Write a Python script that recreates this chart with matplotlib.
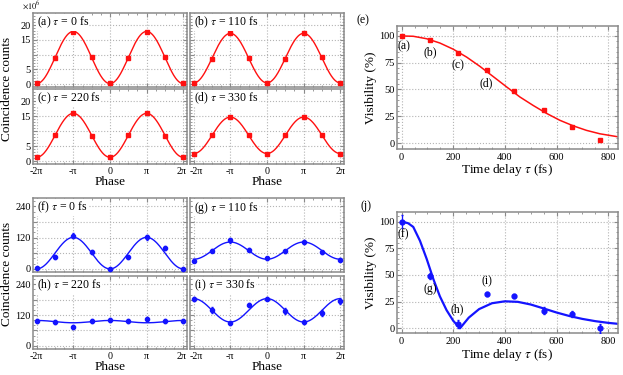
import matplotlib.pyplot as plt
import matplotlib.transforms as mtransforms
import numpy as np

plt.rcParams['font.family'] = 'Liberation Serif'
plt.rcParams['mathtext.fontset'] = 'stix'

# ---------------- data ----------------
phase_pts = np.pi * np.array([-2, -1.5, -1, -0.5, 0, 0.5, 1, 1.5, 2])
phase_ticklabels = ['-2π', '-π', '0', 'π', '2π']

# top block, counts in units of 1e6
counts_a = [0.2, 8.7, 17.8, 9.3, 0.2, 8.7, 17.8, 9.3, 0.2]
counts_b = [0.5, 8.4, 17.2, 8.9, 0.4, 8.6, 17.2, 9.2, 0.4]
counts_c = [1.3, 8.7, 16.0, 8.3, 1.2, 8.6, 16.0, 8.4, 1.3]
counts_d = [2.5, 8.7, 14.7, 8.6, 2.5, 8.7, 14.7, 8.7, 2.5]
# cosine fits: mean, amplitude (sign gives the phase)
fit_a = (9.0, -8.85)
fit_b = (8.8, -8.4)
fit_c = (8.6, -7.35)
fit_d = (8.6, -6.1)

# bottom block
counts_f = [2, 47, 128, 64, 0, 45, 121, 80, 0]
err_f = [4, 8, 9, 7, 3, 8, 9, 9, 3]
counts_g = [32, 69, 109, 73, 41, 67, 103, 64, 35]
err_g = [6, 6, 8, 6, 6, 6, 7, 6, 6]
counts_h = [96, 94, 74, 96, 100, 96, 106, 96, 96]
err_h = [8, 7, 8, 7, 7, 7, 8, 7, 7]
counts_i = [184, 141, 89, 158, 184, 136, 93, 128, 175]
err_i = [8, 12, 8, 8, 6, 10, 8, 12, 10]
fit_f = (60.5, -60.5)
fit_g = (70.0, -33.0)
fit_h = (94.5, 4.5)
fit_i = (138.5, 45.5)

# visibility vs delay
tau = [0, 110, 220, 330, 435, 550, 660, 770]
vis_e = [100, 96, 84, 68, 49, 31, 14.6, 2.5]
vis_j = [100, 49, 4, 32, 30.6, 16.6, 13.4, 0]
vis_j_err = [6, 3, 4, 2, 2, 3, 3, 4]

# fitted curves
fit_e_t = [0, 45, 97, 148, 200, 252, 303, 355, 406, 458, 510, 561, 613, 665, 716, 768, 838]
fit_e_v = [100, 99.7, 97.4, 93.4, 87.6, 80.2, 71.6, 62.0, 52.5, 43.0, 35.0, 27.7, 21.2, 16.0, 11.8, 8.6, 5.8]
fit_j_t = [0, 25, 45, 71, 97, 123, 148, 174, 200, 226, 260, 300, 350, 400, 450,
           500, 550, 600, 650, 700, 750, 800, 838]
fit_j_v = [100, 98.5, 95, 82, 65, 46, 30, 17, 7, 0, 10, 18, 23.5, 25.3, 24.8,
           22.3, 18.6, 14.8, 11.5, 8.8, 6.7, 5.1, 4.2]

labels_e = ['(a)', '(b)', '(c)', '(d)']
labels_e_xy = [(9, 90), (110, 85), (219, 73), (326, 56)]
labels_j = ['(f)', '(g)', '(h)', '(i)']
labels_j_xy = [(6, 88), (110, 37), (215, 18), (332, 44)]

# ---------------- layout ----------------
W, H = 623, 375
fig = plt.figure(figsize=(W / 100, H / 100), dpi=100)
frame_col = '#8a8a8a'
grid_col = '#b4b4b4'


def add_ax(x0, y0, x1, y1):
    return fig.add_axes([x0 / W, 1 - y1 / H, (x1 - x0) / W, (y1 - y0) / H])


def style(ax):
    for s in ax.spines.values():
        s.set_color(frame_col)
        s.set_linewidth(1.1)
    ax.tick_params(which='both', direction='in', top=True, right=True,
                   color=frame_col, labelsize=7.5, pad=1.5)
    ax.tick_params(which='major', length=3)
    ax.tick_params(which='minor', length=1.5)
    ax.grid(True, ls=':', color=grid_col, lw=0.8)
    ax.set_axisbelow(True)


def phase_panel(box, counts, err, fit, color, label, top, show_x, show_y, left_col):
    ax = add_ax(*box)
    style(ax)
    ph = np.linspace(-2 * np.pi, 2 * np.pi, 400)
    ax.plot(ph, fit[0] + fit[1] * np.cos(ph), color=color, lw=1.0, zorder=2)
    if err is None:
        ax.plot(phase_pts, counts, 's', color=color, ms=3, zorder=3)
    else:
        ax.errorbar(phase_pts, counts, yerr=err, fmt='o', color=color, ms=3,
                    elinewidth=0.9, capsize=1.0, zorder=3)
    ax.set_xlim(-6.6, 6.6)
    ax.set_xticks(np.pi * np.array([-2, -1, 0, 1, 2]))
    ax.set_xticks(np.pi * np.arange(-2, 2.01, 0.25), minor=True)
    if show_x:
        ax.set_xticklabels(phase_ticklabels)
        ax.tick_params(axis='x', pad=2.5, labelsize=7.2)
        # nudge the edge labels apart so neighbouring panels do not collide
        tl = ax.get_xticklabels()
        if left_col:
            tl[-1].set_transform(tl[-1].get_transform() + mtransforms.ScaledTranslation(-2 / 100, 0, fig.dpi_scale_trans))
        else:
            tl[0].set_transform(tl[0].get_transform() + mtransforms.ScaledTranslation(3 / 100, 0, fig.dpi_scale_trans))
    else:
        ax.set_xticklabels([])
    if top:
        ax.set_ylim(-1.0, 24.1)
        ax.set_yticks([0, 5, 10, 15, 20])
        ax.set_yticks(np.arange(0, 24, 1), minor=True)
        ylab = ['0', '5', '', '15', '20']
    else:
        ax.set_ylim(-12, 272)
        ax.set_yticks([0, 60, 120, 180, 240])
        ax.set_yticks(np.arange(0, 270, 20), minor=True)
        ylab = ['0', '', '120', '', '240']
    ax.set_yticklabels(ylab if show_y else [])
    ax.text(0.025, 0.975, label, transform=ax.transAxes, va='top', ha='left',
            fontsize=8.5, zorder=5,
            bbox=dict(facecolor='white', edgecolor='none', pad=0.3))
    return ax


red = '#ff1010'
blue = '#1414ff'

phase_panel((33, 13, 187, 87), counts_a, None, fit_a, red, r'(a) $\tau$ = 0 fs', True, False, True, True)
phase_panel((190, 13, 344, 87), counts_b, None, fit_b, red, r'(b) $\tau$ = 110 fs', True, False, False, False)
phase_panel((33, 89, 187, 164), counts_c, None, fit_c, red, r'(c) $\tau$ = 220 fs', True, True, True, True)
phase_panel((190, 89, 344, 164), counts_d, None, fit_d, red, r'(d) $\tau$ = 330 fs', True, True, False, False)

phase_panel((33, 198, 187, 272), counts_f, err_f, fit_f, blue, r'(f) $\tau$ = 0 fs', False, False, True, True)
phase_panel((190, 198, 344, 272), counts_g, err_g, fit_g, blue, r'(g) $\tau$ = 110 fs', False, False, False, False)
phase_panel((33, 276, 187, 349), counts_h, err_h, fit_h, blue, r'(h) $\tau$ = 220 fs', False, True, True, True)
phase_panel((190, 276, 344, 349), counts_i, err_i, fit_i, blue, r'(i) $\tau$ = 330 fs', False, True, False, False)

fig.text(31 / W, 1 - 5 / H, r'$\times10^6$', fontsize=6, ha='center', va='center')
for yc in (88.5, 273.5):
    fig.text(7.5 / W, 1 - yc / H, 'Coincidence counts', rotation=90,
             ha='center', va='center', fontsize=9.5)
for yc in (182, 367):
    for xc in (110, 267):
        fig.text(xc / W, 1 - yc / H, 'Phase', ha='center', va='center', fontsize=9.5)


def vis_panel(box, ylim):
    ax = add_ax(*box)
    style(ax)
    ax.set_xlim(-18, 838)
    ax.set_ylim(*ylim)
    ax.set_xticks([0, 200, 400, 600, 800])
    ax.set_xticks(np.arange(0, 840, 50), minor=True)
    ax.set_yticks([0, 25, 50, 75, 100])
    ax.set_yticks(np.arange(0, 110, 5), minor=True)
    ax.tick_params(axis='x', pad=3)
    return ax


ax_e = vis_panel((397, 26, 618, 149), (-5.6, 109.3))
ax_e.plot(fit_e_t, fit_e_v, color=red, lw=1.1, zorder=2)
ax_e.plot(tau, vis_e, 's', color=red, ms=3.2, zorder=3)
for lab, (x, y) in zip(labels_e, labels_e_xy):
    ax_e.text(x, y, lab, ha='center', va='center', fontsize=8.5)

ax_j = vis_panel((397, 212, 618, 333), (-4.4, 109))
ax_j.plot(fit_j_t, fit_j_v, color=blue, lw=1.6, zorder=2)
ax_j.errorbar(tau, vis_j, yerr=vis_j_err, fmt='o', color=blue, ms=3.5,
              elinewidth=0.9, capsize=1.0, zorder=3)
for lab, (x, y) in zip(labels_j, labels_j_xy):
    ax_j.text(x, y, lab, ha='center', va='center', fontsize=8.5)

fig.text(363 / W, 1 - 20 / H, '(e)', ha='center', va='center', fontsize=8.5)
fig.text(366 / W, 1 - 206 / H, '(j)', ha='center', va='center', fontsize=8.5)
for yc in (88, 272.5):
    fig.text(371 / W, 1 - yc / H, 'Visibility (%)', rotation=90,
             ha='center', va='center', fontsize=9.5)
for yc in (170, 355):
    fig.text(507 / W, 1 - yc / H, r'Time delay $\tau$ (fs)', ha='center',
             va='center', fontsize=9.5)

fig.savefig('out.png', dpi=100)
